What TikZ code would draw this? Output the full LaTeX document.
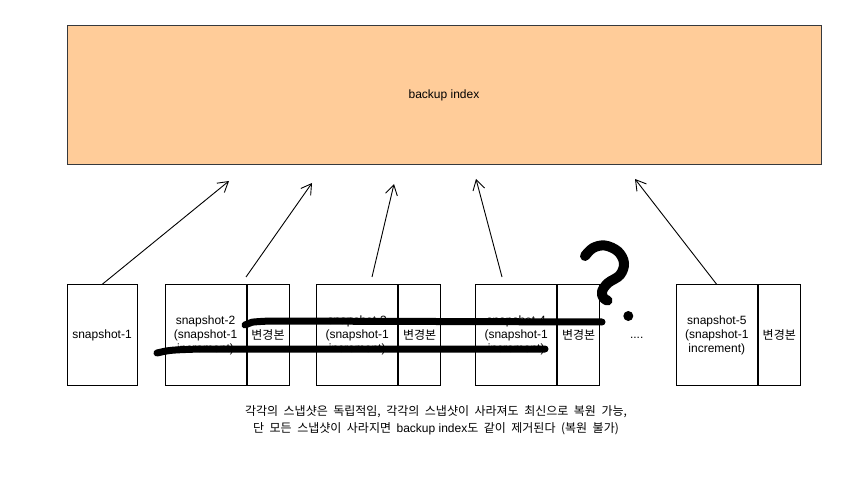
\documentclass[tikz,border=0pt]{standalone}
\usepackage{fontspec}
\setmainfont{Liberation Sans}
\newfontfamily\kr{Noto Sans CJK KR}
\usepackage{tikz}
\usetikzlibrary{arrows.meta,positioning}

\definecolor{peach}{HTML}{FFCC99}
\definecolor{edge}{HTML}{36393D}

\tikzset{
  snapcell/.style={draw, line width=1pt, minimum width=81pt, minimum height=100pt, inner sep=0pt, align=center},
  diffcell/.style={draw, line width=1pt, minimum width=42pt, minimum height=100pt, inner sep=0pt},
  link/.style={-{Straight Barb[length=10pt,width=12pt]}, line width=0.9pt},
  scrawl/.style={line width=7pt, line cap=round, line join=round}
}
\newcommand{\krw}{\kr\spaceskip=5.5pt plus 1pt}

\begin{document}
\begin{tikzpicture}[x=1pt, y=-1pt, font=\fontsize{12pt}{14pt}\selectfont]
\useasboundingbox[fill=white] (0,0) rectangle (868,481);

\node[draw=edge, line width=1pt, fill=peach, minimum width=754pt, minimum height=139pt] (idx) at (444,95) {backup index};

\node[snapcell, minimum width=70pt] (s1) at (102,335) {snapshot-1};
\node[snapcell] (s2) at (205.5,335) {snapshot-2\\(snapshot-1\\increment)};
\node[diffcell, right=0pt of s2] (d2) {\kr 변경본};
\node[snapcell] (s3) at (357.2,335) {snapshot-3\\(snapshot-1\\increment)};
\node[diffcell, right=0pt of s3] (d3) {\kr 변경본};
\node[snapcell] (s4) at (516.2,335) {snapshot-4\\(snapshot-1\\increment)};
\node[diffcell, right=0pt of s4] (d4) {\kr 변경본};
\node[snapcell] (s5) at (716.8,335) {snapshot-5\\(snapshot-1\\increment)};
\node[diffcell, right=0pt of s5] (d5) {\kr 변경본};
\node (dots) at (636.7,338) {....};

\coordinate (t1) at (229,181);
\coordinate (t2) at (312,183);
\coordinate (t3) at (394,184);
\coordinate (t4) at (476,179);
\coordinate (t5) at (635,179);
\coordinate (f2) at (246,277);
\coordinate (f3) at (372,277);
\coordinate (f4) at (502,277);

\draw[link] (s1.north) -- (t1);
\draw[link] (f2) -- (t2);
\draw[link] (f3) -- (t3);
\draw[link] (f4) -- (t4);
\draw[link] (s5.north) -- (t5);

\draw[scrawl] (245,325) .. controls (250,322) .. (270,321) -- (602,322);
\draw[scrawl] (157,353) .. controls (170,350) .. (200,349) -- (545,349);
\draw[scrawl, line width=10pt] plot[smooth, tension=0.6] coordinates {(585,256) (593,248) (605,245.5) (618,251.5) (624,263) (620,275) (608,283) (602,291.5) (603.5,298) (607.5,300.5)};
\fill (628.3,316) circle (5);

\node[align=center, font=\fontsize{12pt}{17pt}\selectfont] (note) at (436,420) {{\krw 각각의 스냅샷은 독립적임, 각각의 스냅샷이 사라져도 최신으로 복원 가능,}\\{\krw 단 모든 스냅샷이 사라지면 }backup index{\krw 도 같이 제거된다 (복원 불가)}};
\end{tikzpicture}
\end{document}
